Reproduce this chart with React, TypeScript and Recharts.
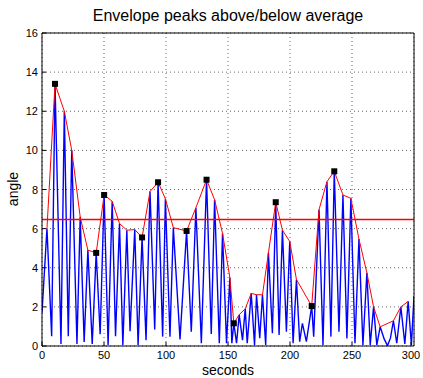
import {
  ComposedChart,
  Line,
  XAxis,
  YAxis,
  CartesianGrid,
} from "recharts";

// blue signal: alternating peaks and troughs (seconds, angle)
const signalTime = [
  0, 4.0, 7.8, 10.5, 15.3, 18, 21.2, 24, 28.2, 30.8, 34, 37, 40.5, 43.7, 46.9,
  50.1, 53.3, 56.6, 59.3, 62.5, 65.2, 68.4, 71, 74.8, 77.5, 80.7, 83.9, 87.1,
  90.9, 93.6, 97.3, 99.5, 103.2, 105.9, 111.3, 116.6, 120.4, 124.1, 128.5,
  132.7, 136.5, 139.2, 143, 145.6, 148.8, 151.5, 153.1, 154.7, 156.9, 159,
  161.7, 163.9, 165.5, 168.7, 171.4, 173, 175.6, 177.8, 180.4, 182.6, 185.8,
  188.5, 191.2, 193.9, 197.1, 199.8, 202.5, 205.2, 207.8, 210, 213.2, 217.5,
  219.1, 223.4, 226.6, 229.8, 233, 235.7, 239.5, 242.7, 245.9, 249.1, 252.4,
  255.6, 258.8, 262, 264.7, 267.4, 270, 272.7, 276, 278.6, 281, 283.4, 286.1,
  289.4, 292.6, 295.3, 297.9, 300,
];
const signalAngle = [
  1.7, 6.0, 0.5, 13.4, 0.1, 12.0, 0.5, 10.0, 0.1, 6.6, 0.2, 4.9, 0.1, 4.76, 0.6,
  7.72, 0.05, 7.4, 0.5, 6.26, 0.05, 5.92, 0.75, 5.95, 0.05, 5.55, 0.3, 7.9,
  0.85, 8.37, 0.48, 7.53, 0.48, 6.05, 0.34, 5.88, 0.73, 7.07, 0.14, 8.5, 0.61,
  7.48, 0.14, 5.75, 0.14, 3.5, 0.14, 1.16, 0.14, 1.6, 0.3, 1.9, 0.14, 2.69,
  0.05, 2.62, 0.4, 2.62, 0.05, 4.76, 0.65, 7.35, 0.56, 5.92, 0.73, 5.34, 0.14,
  3.4, 0.22, 1.16, 0.22, 2.04, 0.48, 6.97, 0.05, 8.4, 0.48, 8.93, 0.73, 7.72,
  0.39, 7.55, 0.14, 5.47, 0.05, 3.74, 0.05, 2.0, 0.05, 0.98, 0.35, 0.02, 0.4,
  1.29, 0.14, 2.0, 0.1, 2.28, 0.05, 2.55,
];

// red envelope through the peaks
const envTime = [
  4.0, 10.5, 18, 24, 30.8, 37, 43.7, 50.1, 56.6, 62.5, 68.4, 74.8, 80.7, 87.1,
  93.6, 99.5, 105.9, 116.6, 124.1, 132.7, 139.2, 145.6, 151.5, 154.7, 159,
  163.9, 168.7, 173, 177.8, 182.6, 188.5, 193.9, 199.8, 205.2, 217.5, 223.4,
  229.8, 235.7, 242.7, 249.1, 255.6, 262, 267.4, 272.7, 283.4, 289.4, 295.3,
];
const envAngle = [
  6.0, 13.4, 12.0, 10.0, 6.6, 4.9, 4.76, 7.72, 7.4, 6.26, 5.92, 5.95, 5.55, 7.9,
  8.37, 7.53, 6.05, 5.88, 7.07, 8.5, 7.48, 5.75, 3.5, 1.16, 1.6, 1.9, 2.69,
  2.62, 2.62, 4.76, 7.35, 5.92, 5.34, 3.4, 2.04, 6.97, 8.4, 8.93, 7.72, 7.55,
  5.47, 3.74, 2.0, 0.98, 1.29, 2.0, 2.28,
];

// envelope extrema marked with squares
const markTime = [10.5, 43.7, 50.1, 80.7, 93.6, 116.6, 132.7, 154.7, 188.5, 217.5, 235.7];
const markAngle = [13.4, 4.76, 7.72, 5.55, 8.37, 5.88, 8.5, 1.16, 7.35, 2.04, 8.93];

// average level, drawn across the whole time range
const average = 6.47;
const averageSpan = [0, 300];

const xTicks = [0, 50, 100, 150, 200, 250, 300];
const yTicks = [0, 2, 4, 6, 8, 10, 12, 14, 16];

const signal = signalTime.map((t, i) => ({ t, v: signalAngle[i] }));
const envelope = envTime.map((t, i) => ({ t, v: envAngle[i] }));
const marks = markTime.map((t, i) => ({ t, v: markAngle[i] }));
const avgLine = averageSpan.map((t) => ({ t, v: average }));

const FONT = "'Liberation Sans', Arial, Helvetica, sans-serif";
const TL = 4;

const LeftTick = ({ x, y, payload }: any) => (
  <g>
    <line x1={x} x2={x + TL} y1={y} y2={y} stroke="#000" />
    <text x={x - 4} y={y} textAnchor="end" dominantBaseline="central" fontSize={11} fontFamily={FONT} fill="#000">
      {payload.value}
    </text>
  </g>
);
const RightTick = ({ x, y }: any) => (
  <line x1={x - TL} x2={x} y1={y} y2={y} stroke="#000" />
);
const BottomTick = ({ x, y, payload }: any) => (
  <g>
    <line x1={x} x2={x} y1={y} y2={y - TL} stroke="#000" />
    <text x={x} y={y + 13} textAnchor="middle" fontSize={11} fontFamily={FONT} fill="#000">
      {payload.value}
    </text>
  </g>
);
const TopTick = ({ x, y }: any) => (
  <line x1={x} x2={x} y1={y} y2={y + TL} stroke="#000" />
);

const Square = ({ cx, cy }: any) => (
  <rect x={cx - 3} y={cy - 3} width={6} height={6} fill="#000" />
);

export default function App() {
  return (
    <div style={{ position: "absolute", left: 0, top: 0, width: 423, height: 378, background: "#fff", fontFamily: FONT }}>
      <div style={{ position: "absolute", left: 42, width: 372, top: 7, textAlign: "center", fontSize: 16, color: "#000" }}>
        Envelope peaks above/below average
      </div>
      <div style={{ position: "absolute", left: 42, width: 372, top: 362, textAlign: "center", fontSize: 14, color: "#000" }}>
        seconds
      </div>
      <div
        style={{
          position: "absolute",
          left: 13,
          top: 189,
          fontSize: 14,
          color: "#000",
          transform: "translate(-50%, -50%) rotate(-90deg)",
          whiteSpace: "nowrap",
        }}
      >
        angle
      </div>
      <ComposedChart width={423} height={378} margin={{ top: 32, right: 8, bottom: 31, left: 41 }}>
        <CartesianGrid xAxisId="b" yAxisId="l" stroke="#666" strokeDasharray="1 3" />
        <XAxis
          xAxisId="b"
          dataKey="t"
          type="number"
          domain={[0, 300]}
          ticks={xTicks}
          height={1}
          tickSize={0}
          tickMargin={0}
          tickLine={false}
          tick={<BottomTick />}
          axisLine={{ stroke: "#000" }}
          allowDataOverflow
        />
        <XAxis
          xAxisId="t"
          orientation="top"
          dataKey="t"
          type="number"
          domain={[0, 300]}
          ticks={xTicks}
          height={1}
          tickSize={0}
          tickMargin={0}
          tickLine={false}
          tick={<TopTick />}
          axisLine={{ stroke: "#000" }}
        />
        <YAxis
          yAxisId="l"
          type="number"
          domain={[0, 16]}
          ticks={yTicks}
          width={1}
          tickSize={0}
          tickMargin={0}
          tickLine={false}
          tick={<LeftTick />}
          axisLine={{ stroke: "#000" }}
          allowDataOverflow
        />
        <YAxis
          yAxisId="r"
          orientation="right"
          type="number"
          domain={[0, 16]}
          ticks={yTicks}
          width={1}
          tickSize={0}
          tickMargin={0}
          tickLine={false}
          tick={<RightTick />}
          axisLine={{ stroke: "#000" }}
        />
        <Line
          xAxisId="b"
          yAxisId="l"
          data={signal}
          dataKey="v"
          type="linear"
          stroke="#0000ff"
          strokeWidth={1.4}
          dot={false}
          activeDot={false}
          isAnimationActive={false}
        />
        <Line
          xAxisId="b"
          yAxisId="l"
          data={envelope}
          dataKey="v"
          type="linear"
          stroke="#ff0000"
          strokeWidth={1}
          dot={false}
          activeDot={false}
          isAnimationActive={false}
        />
        <Line
          xAxisId="b"
          yAxisId="l"
          data={avgLine}
          dataKey="v"
          type="linear"
          stroke="#ff0000"
          strokeWidth={1.5}
          dot={false}
          activeDot={false}
          isAnimationActive={false}
        />
        <Line
          xAxisId="b"
          yAxisId="l"
          data={marks}
          dataKey="v"
          stroke="none"
          dot={<Square />}
          activeDot={false}
          isAnimationActive={false}
        />
      </ComposedChart>
    </div>
  );
}
